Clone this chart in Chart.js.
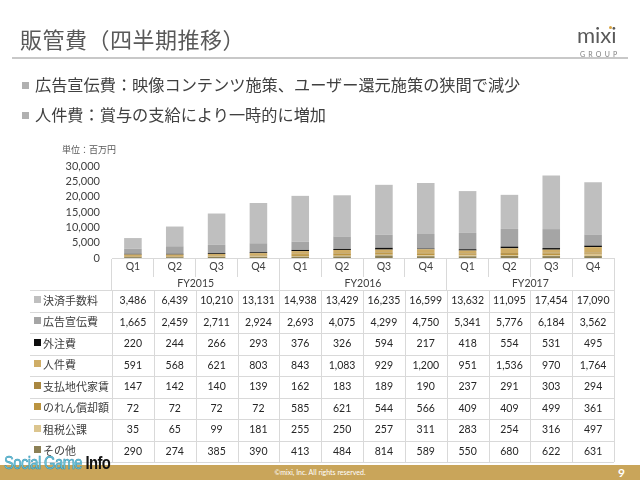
<!DOCTYPE html>
<html>
<head>
<meta charset="utf-8">
<script src="https://cdn.jsdelivr.net/npm/chart.js@4"></script>
<style>
  body { margin: 0; width: 640px; height: 480px; position: relative; background: #fff; overflow: hidden;
         font-family: "Noto Sans CJK JP", sans-serif; color: #404040; }
  #wrap { position: absolute; left: 0; top: 0; width: 640px; height: 480px; }
  .title { position: absolute; left: 20px; top: 22px; font-size: 22px; color: #595959; letter-spacing: 0.5px; }
  .rule { position: absolute; left: 12px; top: 57px; width: 616px; height: 2px; background: #c8c8c8; }
  .bullet { position: absolute; left: 22px; font-size: 16.2px; color: #404040; }
  .bullet span { display: inline-block; width: 7px; height: 7px; background: #b0b0b0; margin-right: 6px; vertical-align: 2px; }
  .logo { position: absolute; left: 577px; top: 21px; font-family: "Lato", sans-serif; font-weight: 400; font-size: 22px; color: #595959; }
  .logo .dot { position: absolute; left: 32px; top: 5px; width: 3px; height: 3px; border-radius: 2px; background: #d9a441; }
  .group { position: absolute; left: 580px; top: 50px; font-family: "Lato", sans-serif; font-size: 7px; letter-spacing: 3.2px; color: #808080; }
  .unit { position: absolute; left: 62px; top: 143px; font-size: 9px; color: #595959; }
  .footer { position: absolute; left: 0; top: 465px; width: 640px; height: 15px; background: #c9a55a; }
  .copy { position: absolute; left: 0; top: 468px; width: 640px; text-align: center; font-family: "Lato", sans-serif; font-size: 7px; color: #fff; }
  .page { position: absolute; left: 618px; top: 465px; font-family: "Lato", sans-serif; font-weight: bold; font-size: 12px; color: #fff; }
  .sgi { position: absolute; left: 4px; top: 452px; font-family: "Liberation Sans", sans-serif; font-size: 19px; letter-spacing: -0.8px;
         transform: scaleX(0.78); transform-origin: left top; white-space: nowrap; }
  .sgi .a { color: #6cc4da; -webkit-text-stroke: 0.5px #2f8fb0; }
  .sgi .b { color: #111; font-weight: bold; }
</style>
</head>
<body>
<div id="wrap"><canvas id="myChart" width="640" height="480"></canvas></div>
<div class="title">販管費（四半期推移）</div>
<div class="rule"></div>
<div class="logo">mixi<div class="dot"></div></div>
<div class="group">GROUP</div>
<div class="bullet" style="top:72px"><span></span>広告宣伝費：映像コンテンツ施策、ユーザー還元施策の狭間で減少</div>
<div class="bullet" style="top:102px"><span></span>人件費：賞与の支給により一時的に増加</div>
<div class="unit">単位：百万円</div>
<div class="footer"></div>
<div class="copy">©mixi, Inc. All rights reserved.</div>
<div class="page">9</div>
<div class="sgi"><span class="a">Social Game </span><span class="b">Info</span></div>
<script>
const quarters = ['Q1', 'Q2', 'Q3', 'Q4', 'Q1', 'Q2', 'Q3', 'Q4', 'Q1', 'Q2', 'Q3', 'Q4'];
const fiscalYears = ['FY2015', 'FY2016', 'FY2017'];
const yTicks = [0, 5000, 10000, 15000, 20000, 25000, 30000];

// table order (top to bottom); stacked the other way round
const seriesNames = ['決済手数料', '広告宣伝費', '外注費', '人件費', '支払地代家賃', 'のれん償却額', '租税公課', 'その他'];
const seriesColors = ['#bfbfbf', '#a5a5a5', '#0d0d0d', '#cfad66', '#a98740', '#bb9440', '#dcc58e', '#8c8055'];

const settlementFees = [3486, 6439, 10210, 13131, 14938, 13429, 16235, 16599, 13632, 11095, 17454, 17090];
const advertising = [1665, 2459, 2711, 2924, 2693, 4075, 4299, 4750, 5341, 5776, 6184, 3562];
const outsourcing = [220, 244, 266, 293, 376, 326, 594, 217, 418, 554, 531, 495];
const personnel = [591, 568, 621, 803, 843, 1083, 929, 1200, 951, 1536, 970, 1764];
const rent = [147, 142, 140, 139, 162, 183, 189, 190, 237, 291, 303, 294];
const goodwill = [72, 72, 72, 72, 585, 621, 544, 566, 409, 409, 499, 361];
const taxes = [35, 65, 99, 181, 255, 250, 257, 311, 283, 254, 316, 497];
const others = [290, 274, 385, 390, 413, 484, 814, 589, 550, 680, 622, 631];

const seriesValues = [settlementFees, advertising, outsourcing, personnel, rent, goodwill, taxes, others];

const TABLE_TOP = 290, TABLE_BOTTOM = 462, TABLE_LEFT = 30;

const dataTable = {
    id: 'dataTable',
    afterDraw(chart) {
        const ctx = chart.ctx;
        const x = chart.scales.x;
        const half = (x.getPixelForValue(1) - x.getPixelForValue(0)) / 2;
        const rowH = (TABLE_BOTTOM - TABLE_TOP) / seriesNames.length;
        ctx.save();
        ctx.strokeStyle = '#d9d9d9';
        ctx.lineWidth = 1;
        ctx.beginPath();
        for (let r = 0; r <= seriesNames.length; r++) {
            const y = Math.round(TABLE_TOP + r * rowH) + 0.5;
            ctx.moveTo(TABLE_LEFT, y);
            ctx.lineTo(chart.chartArea.right, y);
        }
        for (let i = 0; i <= quarters.length; i++) {
            const px = Math.round(x.getPixelForValue(0) - half + i * half * 2) + 0.5;
            ctx.moveTo(px, TABLE_TOP);
            ctx.lineTo(px, TABLE_BOTTOM);
        }
        ctx.stroke();
        ctx.textBaseline = 'middle';
        seriesNames.forEach((name, r) => {
            const cy = TABLE_TOP + r * rowH + rowH / 2;
            ctx.fillStyle = seriesColors[r];
            ctx.fillRect(34, Math.round(cy - 5), 7, 7);
            ctx.fillStyle = '#404040';
            ctx.textAlign = 'left';
            ctx.font = '11px "Noto Sans CJK JP"';
            ctx.fillText(name, 43, cy);
            ctx.textAlign = 'center';
            ctx.font = '10.5px Lato';
            ctx.fillStyle = '#262626';
            seriesValues[r].forEach((v, i) => {
                ctx.fillText(v.toLocaleString('en-US'), x.getPixelForValue(i), cy);
            });
        });
        ctx.restore();
    }
};

// first dataset sits at the bottom of the stack
const datasets = seriesNames.map((name, r) => ({
    label: name,
    data: seriesValues[r],
    backgroundColor: seriesColors[r],
    borderWidth: 0,
    barPercentage: 0.42,
    categoryPercentage: 1,
    xAxisID: 'x'
})).reverse();

const ctx = document.getElementById('myChart');
new Chart(ctx, {
    type: 'bar',
    data: { labels: quarters, datasets: datasets },
    plugins: [dataTable],
    options: {
        responsive: false,
        animation: false,
        layout: { padding: { top: 166, left: 0, right: 26, bottom: 190 } },
        plugins: { legend: { display: false }, tooltip: { enabled: false } },
        scales: {
            y: {
                stacked: true,
                min: 0,
                max: 30000,
                afterBuildTicks: (scale) => { scale.ticks = yTicks.map(v => ({ value: v })); },
                afterFit: (scale) => { scale.width = 112; },
                grid: { display: false, drawTicks: false },
                border: { display: false },
                ticks: {
                    autoSkip: false,
                    padding: 12,
                    color: '#404040',
                    font: { family: 'Lato', size: 11 },
                    callback: (v) => v.toLocaleString('en-US')
                }
            },
            x: {
                stacked: true,
                afterFit: (scale) => { scale.height = 19; },
                grid: { offset: true, drawOnChartArea: false, tickLength: 19, color: '#d9d9d9' },
                border: { display: true, color: '#d9d9d9' },
                ticks: { padding: -17, color: '#404040', font: { family: 'Lato', size: 10.5 } }
            },
            x2: {
                type: 'category',
                labels: fiscalYears,
                position: 'bottom',
                afterFit: (scale) => { scale.height = 13; },
                grid: { offset: true, drawOnChartArea: false, tickLength: 13, color: '#d9d9d9' },
                border: { display: false },
                ticks: { padding: -13, color: '#404040', font: { family: 'Lato', size: 10.5 } }
            }
        }
    }
});
</script>
</body>
</html>
